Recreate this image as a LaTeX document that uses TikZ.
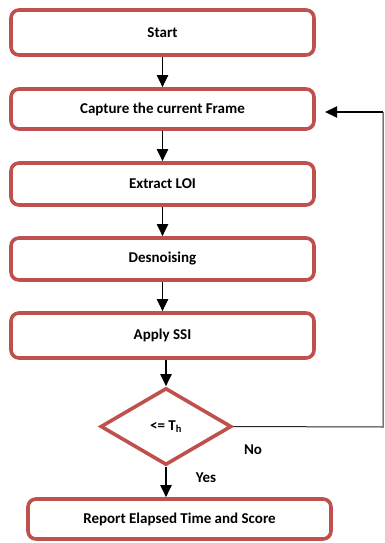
\documentclass[tikz,border=0pt]{standalone}
\usepackage{fontspec}
\setmainfont{Carlito}
\usetikzlibrary{shapes.geometric,arrows.meta}
\definecolor{boxred}{HTML}{C0504D}
\begin{document}
\begin{tikzpicture}[x=1pt,y=-1pt,
  every node/.style={font=\fontsize{15}{18}\selectfont\bfseries},
  stepbox/.style={draw=boxred,line width=3.6pt,rounded corners=8pt,fill=white,
    minimum width=303pt,inner sep=0pt},
  decbox/.style={draw=boxred,line width=3.6pt,shape=diamond,aspect=1.68,
    minimum width=131pt,minimum height=77pt,inner sep=0pt,fill=white},
  arr/.style={line width=1.9pt,-{Triangle[length=12pt,width=11pt]}},
  loopline/.style={line width=1pt,draw=black!85}]
\useasboundingbox (0,0) rectangle (385,543);
\node[stepbox,minimum height=45pt] (start) at (162.5,32.5) {Start};
\node[stepbox,minimum height=40pt] (cap) at (162.5,109) {Capture the current Frame};
\node[stepbox,minimum height=42pt] (loi) at (162.5,184) {Extract LOI};
\node[stepbox,minimum height=42pt] (den) at (162.5,259) {Desnoising};
\node[stepbox,minimum height=45pt] (ssi) at (162.5,335.5) {Apply SSI};
\node[decbox] (dia) at (166,426.5) {<= T\textsubscript{h}};
\node[stepbox,minimum height=40pt] (rep) at (179.5,519) {Report Elapsed Time and Score};
\node (no) at (253,450) {No};
\node (yes) at (206,478) {Yes};
\coordinate (c1) at (383,427);
\coordinate (c2) at (383,112);
\coordinate (c3) at (325,112);
\draw[arr] (start.south) -- (cap.north);
\draw[arr] (cap.south) -- (loi.north);
\draw[arr] (loi.south) -- (den.north);
\draw[arr] (den.south) -- (ssi.north);
\draw[arr] (ssi.south -| dia.north) -- (dia.north);
\draw[arr] (dia.south) -- (dia.south |- rep.north);
\draw[loopline] (dia.east) -- (c1) -- (c2);
\draw[arr] (c2) -- (c3);
\end{tikzpicture}
\end{document}
